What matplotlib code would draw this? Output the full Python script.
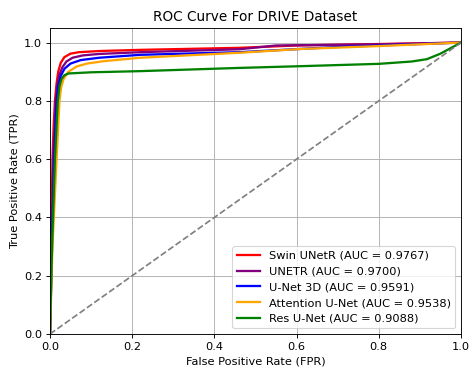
import matplotlib
matplotlib.use("Agg")
import matplotlib.pyplot as plt

# ROC points
swin_fpr = [0, 0.003, 0.006, 0.009, 0.012, 0.016, 0.02, 0.026, 0.035, 0.05, 0.07, 0.12, 0.22, 0.46, 0.6, 0.8, 1.0]
swin_tpr = [0, 0.30, 0.60, 0.72, 0.80, 0.86, 0.90, 0.93, 0.95, 0.962, 0.967, 0.971, 0.975, 0.982, 0.990, 0.995, 1.0]

unetr_fpr = [0, 0.004, 0.008, 0.014, 0.018, 0.023, 0.03, 0.04, 0.055, 0.08, 0.12, 0.22, 0.46, 0.55, 0.8, 1.0]
unetr_tpr = [0, 0.30, 0.60, 0.80, 0.855, 0.89, 0.915, 0.935, 0.948, 0.956, 0.961, 0.967, 0.977, 0.990, 0.994, 1.0]

unet3d_fpr = [0, 0.005, 0.01, 0.016, 0.02, 0.026, 0.035, 0.05, 0.075, 0.12, 0.22, 0.46, 0.7, 0.9, 1.0]
unet3d_tpr = [0, 0.30, 0.60, 0.80, 0.85, 0.885, 0.91, 0.928, 0.94, 0.948, 0.958, 0.967, 0.985, 0.995, 1.0]

attn_fpr = [0, 0.006, 0.016, 0.023, 0.027, 0.033, 0.045, 0.065, 0.09, 0.13, 0.22, 0.46, 0.61, 0.8, 1.0]
attn_tpr = [0, 0.30, 0.60, 0.80, 0.845, 0.875, 0.90, 0.918, 0.928, 0.936, 0.948, 0.965, 0.978, 0.988, 1.0]

res_fpr = [0, 0.005, 0.012, 0.019, 0.023, 0.028, 0.035, 0.045, 0.1, 0.22, 0.46, 0.61, 0.8, 0.88, 0.917, 0.95, 1.0]
res_tpr = [0, 0.30, 0.60, 0.80, 0.85, 0.875, 0.888, 0.894, 0.898, 0.902, 0.913, 0.919, 0.927, 0.935, 0.943, 0.962, 1.0]

labels = ["Swin UNetR (AUC = 0.9767)", "UNETR (AUC = 0.9700)", "U-Net 3D (AUC = 0.9591)",
          "Attention U-Net (AUC = 0.9538)", "Res U-Net (AUC = 0.9088)"]
colors = ["red", "purple", "blue", "orange", "green"]


def main():
    curves = [(swin_fpr, swin_tpr), (unetr_fpr, unetr_tpr), (unet3d_fpr, unet3d_tpr),
              (attn_fpr, attn_tpr), (res_fpr, res_tpr)]
    dpi = 82
    fig, ax = plt.subplots(figsize=(471 / dpi, 371 / dpi), dpi=dpi)
    for (fpr, tpr), lab, col in zip(curves, labels, colors):
        ax.plot(fpr, tpr, color=col, lw=2, label=lab)
    ax.plot([0, 1], [0, 1], color="gray", linestyle="--")
    ax.set_xlim(0, 1)
    ax.set_ylim(0, 1.05)
    ax.set_xlabel("False Positive Rate (FPR)")
    ax.set_ylabel("True Positive Rate (TPR)")
    ax.set_title("ROC Curve For DRIVE Dataset")
    ax.legend(loc="lower right")
    ax.grid(True)
    fig.subplots_adjust(left=50 / 471, right=461 / 471, top=1 - 28 / 371, bottom=1 - 334 / 371)
    plt.savefig("out.png", dpi=dpi)
    plt.close("all")


if __name__ == "__main__":
    main()
